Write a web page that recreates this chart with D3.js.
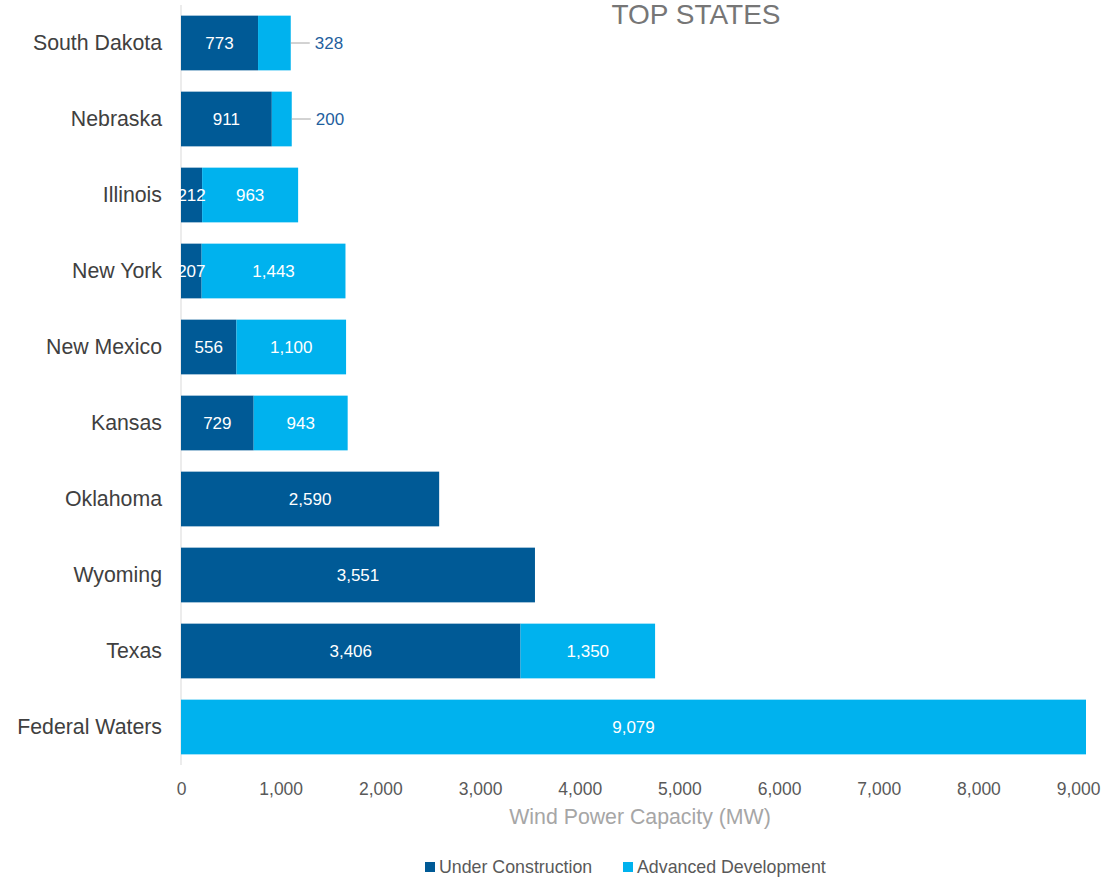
<!DOCTYPE html>
<html>
<head>
<meta charset="utf-8">
<script src="https://cdn.jsdelivr.net/npm/d3@7"></script>
<style>
  body { margin: 0; background: #fff; }
  svg { font-family: "Liberation Sans", Arial, sans-serif; }
</style>
</head>
<body>
<svg id="chart" width="1118" height="879"></svg>
<script>
// Wind power capacity by state (MW)
const states = ["South Dakota", "Nebraska", "Illinois", "New York", "New Mexico",
                "Kansas", "Oklahoma", "Wyoming", "Texas", "Federal Waters"];
const underConstruction = [773, 911, 212, 207, 556, 729, 2590, 3551, 3406, 0];
const advancedDevelopment = [328, 200, 963, 1443, 1100, 943, 0, 0, 1350, 9079];
const xTicks = [0, 1000, 2000, 3000, 4000, 5000, 6000, 7000, 8000, 9000];
const seriesNames = ["Under Construction", "Advanced Development"];
const colors = ["#005A96", "#00B2EE"];

const svg = d3.select("#chart");
const x = d3.scaleLinear().domain([0, 9079]).range([181, 1086]);
const y = d3.scaleBand().domain(states).range([5, 765]).paddingInner(0.28).paddingOuter(0.14);

const rows = states.map((s, i) => ({ state: s, uc: underConstruction[i], ad: advancedDevelopment[i] }));

// vertical axis line
svg.append("line").attr("x1", x(0)).attr("x2", x(0)).attr("y1", 5).attr("y2", 765)
  .attr("stroke", "#d9d9d9").attr("stroke-width", 1);

// stacked bars
const g = svg.append("g");
rows.forEach(d => {
  const yy = y(d.state), h = y.bandwidth();
  if (d.uc > 0) {
    g.append("rect").attr("x", x(0)).attr("y", yy).attr("width", x(d.uc) - x(0)).attr("height", h)
      .attr("fill", colors[0]);
  }
  if (d.ad > 0) {
    g.append("rect").attr("x", x(d.uc)).attr("y", yy).attr("width", x(d.uc + d.ad) - x(d.uc)).attr("height", h)
      .attr("fill", colors[1]);
  }
});

// data labels
const fmt = d3.format(",");
const labelSize = 17;
rows.forEach(d => {
  const cy = y(d.state) + y.bandwidth() / 2;
  if (d.uc > 0) {
    g.append("text").attr("x", (x(0) + x(d.uc)) / 2).attr("y", cy).attr("dy", "0.35em")
      .attr("text-anchor", "middle").attr("fill", "#fff").attr("font-size", labelSize).text(fmt(d.uc));
  }
  if (d.ad > 0) {
    const w = x(d.uc + d.ad) - x(d.uc);
    if (w > 50) {
      g.append("text").attr("x", (x(d.uc) + x(d.uc + d.ad)) / 2).attr("y", cy).attr("dy", "0.35em")
        .attr("text-anchor", "middle").attr("fill", "#fff").attr("font-size", labelSize).text(fmt(d.ad));
    } else {
      // small segment: value sits outside with a leader line
      const xe = x(d.uc + d.ad);
      g.append("line").attr("x1", xe).attr("x2", xe + 19).attr("y1", cy).attr("y2", cy)
        .attr("stroke", "#a6a6a6").attr("stroke-width", 1);
      g.append("text").attr("x", xe + 24).attr("y", cy).attr("dy", "0.35em")
        .attr("text-anchor", "start").attr("fill", "#1F5F9E").attr("font-size", labelSize).text(fmt(d.ad));
    }
  }
});

// category labels
svg.append("g").selectAll("text").data(states).join("text")
  .attr("x", 162).attr("y", d => y(d) + y.bandwidth() / 2).attr("dy", "0.35em")
  .attr("text-anchor", "end").attr("fill", "#404040").attr("font-size", 21.3).text(d => d);

// x axis tick labels
const xAxis = d3.axisBottom(x).tickValues(xTicks).tickFormat(fmt).tickSize(0).tickPadding(0);
const ax = svg.append("g").attr("transform", "translate(0,779)").call(xAxis);
ax.select(".domain").remove();
ax.selectAll("text").attr("font-size", 17.5).attr("fill", "#595959")
  .attr("font-family", "Liberation Sans, Arial, sans-serif").attr("dy", "0.9em");

// axis title
svg.append("text").attr("x", 640).attr("y", 824).attr("text-anchor", "middle")
  .attr("fill", "#a6a6a6").attr("font-size", 21.3).text("Wind Power Capacity (MW)");

// chart title
svg.append("text").attr("x", 696).attr("y", 24).attr("text-anchor", "middle")
  .attr("fill", "#767676").attr("font-size", 28).text("TOP STATES");

// legend
const legendX = [425, 623];
seriesNames.forEach((n, i) => {
  svg.append("rect").attr("x", legendX[i]).attr("y", 862).attr("width", 10).attr("height", 10).attr("fill", colors[i]);
  svg.append("text").attr("x", legendX[i] + 14).attr("y", 867).attr("dy", "0.35em")
    .attr("fill", "#595959").attr("font-size", 17.8).text(n);
});
</script>
</body>
</html>
